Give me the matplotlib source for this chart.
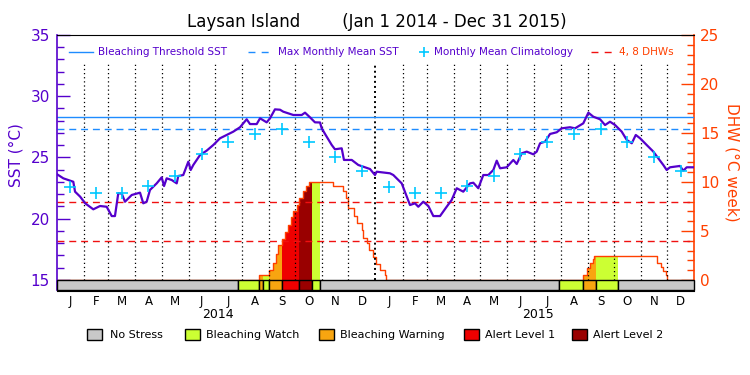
import numpy as np
import pandas as pd
import matplotlib
matplotlib.use('Agg')
import matplotlib.pyplot as plt
from matplotlib.patches import Rectangle
from matplotlib.lines import Line2D
from matplotlib.ticker import FixedLocator

plt.rcParams['font.family'] = ['DejaVu Sans']

# ---- data (days since 2014-01-01) ----
month_letters = list('JFMAMJJASOND')
year_labels = ['2014', '2015']

clim_sst = [22.62, 22.07, 22.10, 22.65, 23.46, 25.30, 26.24, 26.89, 27.30, 26.24, 25.07, 23.90]
threshold_sst = 28.28
mmm_sst = 27.30
dhw_levels = [4, 8]

sst_day = [0, 7.6, 19.0, 21.0, 26.9, 32.6, 41.9, 49.6, 57.2, 63.0, 66.7, 70.5, 74.4, 78.2, 85.9,
           95.4, 99.1, 103.0, 106.8, 114.5, 120.2, 122.9, 125.9, 131.7, 137.4, 139.2, 144.9,
           150.7, 153.4, 156.4, 164.1, 171.7, 179.3, 187.0, 194.6, 202.2, 209.9, 217.5, 221.3,
           229.0, 232.8, 240.4, 244.2, 249.9, 255.7, 259.4, 270.9, 280.5, 284.3, 290.0, 295.7,
           301.5, 303.4, 309.1, 314.9, 318.6, 326.3, 328.9, 337.8, 345.3, 353.0, 358.7, 364.4,
           366.4, 381.6, 385.4, 395.0, 404.5, 410.2, 414.0, 419.7, 425.5, 431.2, 438.9, 446.5,
           452.2, 458.0, 465.5, 473.2, 477.0, 482.7, 488.4, 494.2, 499.9, 503.8, 507.6, 515.2,
           522.8, 526.7, 532.4, 538.1, 545.7, 549.6, 553.4, 559.1, 564.8, 572.5, 578.2, 587.7,
           593.4, 602.9, 608.7, 614.4, 622.1, 627.8, 633.5, 639.3, 646.9, 652.7, 658.4, 663.0,
           667.9, 675.5, 683.1, 688.8, 694.5, 698.4, 702.2, 713.6, 717.4, 721.3, 730]
sst_val = [23.65, 23.30, 23.02, 22.21, 21.80, 21.26, 20.77, 21.04, 20.98, 20.22, 20.22, 22.08,
           22.06, 21.39, 21.94, 22.13, 21.26, 21.39, 22.35, 22.89, 23.38, 22.67, 23.30, 23.16,
           22.89, 23.49, 23.57, 24.66, 23.98, 24.39, 25.20, 25.56, 26.02, 26.57, 26.84, 27.11,
           27.47, 28.12, 27.73, 27.73, 28.20, 27.87, 28.20, 28.93, 28.90, 28.74, 28.47, 28.47,
           28.66, 28.28, 27.87, 27.86, 27.38, 26.70, 26.02, 25.67, 25.75, 24.80, 24.80, 24.39,
           24.20, 24.06, 23.57, 23.84, 23.71, 23.57, 22.89, 21.12, 21.26, 20.98, 21.39, 21.04,
           20.22, 20.22, 20.98, 21.53, 22.49, 22.21, 22.89, 22.94, 22.49, 23.57, 23.57, 23.98,
           24.74, 24.12, 24.20, 24.80, 24.47, 25.34, 25.48, 25.26, 25.48, 26.16, 26.29, 26.92,
           27.06, 27.38, 27.47, 27.38, 27.79, 28.66, 28.33, 28.12, 27.65, 27.92, 27.65, 27.11,
           26.43, 26.16, 26.84, 26.57, 26.02, 25.48, 24.93, 24.39, 23.98, 24.20, 24.31, 23.92,
           24.20, 24.20]

dhw_day = [0, 232.0, 243.4, 247.3, 251.1, 253.7, 257.6, 261.4, 264.5, 267.9, 270.9, 274.8,
           277.8, 281.7, 285.4, 288.5, 316.7, 327.5, 331.2, 333.9, 340.7, 343.5, 349.2, 351.0,
           354.9, 357.9, 362.5, 366.1, 370.2, 375.9, 376.7, 602.9, 607.5, 610.6, 613.7, 615.2,
           687.6, 691.5, 694.5, 697.6, 698.4, 730]
dhw_val = [0, 0.51, 1.02, 1.70, 2.62, 3.57, 4.21, 4.93, 5.61, 6.40, 7.04, 7.62, 8.34, 9.08,
           9.59, 10.03, 9.59, 9.08, 8.34, 7.38, 6.53, 5.85, 5.10, 4.32, 3.74, 3.06, 2.38, 1.63,
           1.02, 0.51, 0, 0.51, 1.26, 1.77, 2.11, 2.45, 1.77, 1.36, 0.95, 0.51, 0, 0]

# stress level: 0 no stress, 1 watch, 2 warning, 3 alert 1, 4 alert 2
status_day = [0, 207.9, 232.0, 236.5, 243.4, 257.6, 277.8, 292.3, 301.5, 575.4, 602.9, 617.5, 643.0]
status_lvl = [0, 1, 2, 1, 2, 3, 4, 1, 0, 1, 2, 1, 0]
status_names = ['No Stress', 'Bleaching Watch', 'Bleaching Warning', 'Alert Level 1', 'Alert Level 2']

# ---- styles ----
PURPLE = '#5500cc'
ORANGE_RED = '#ff4000'
BLUE = '#1e8cff'
CYAN = '#00c8ff'
RED = '#f01010'
status_colors = ['#c8c8c8', '#ccff33', '#f8a510', '#ee0000', '#990000']

W, H = 750, 375
def fx(x):
    return x / W
def fy(y):
    return 1 - y / H

months = pd.date_range('2014-01-01', '2016-01-01', freq='MS')
month_start = np.array([(d - months[0]).days for d in months], dtype=float)
month_mid = (month_start[:-1] + month_start[1:]) / 2

fig = plt.figure(figsize=(7.5, 3.75), dpi=100)
ax = fig.add_axes([fx(56.7), fy(290.5), fx(694.3) - fx(56.7), fy(35) - fy(290.5)])
ax2 = ax.twinx()
ax.set_zorder(2)
ax2.set_zorder(1)
ax.patch.set_visible(False)

sst_bottom = 15 - 10.5 / 12.25
ax.set_xlim(0, 730)
ax.set_ylim(sst_bottom, 35)
ax2.set_ylim(-10.5 / 9.8, 25)

# DHW fills coloured by status
dday = np.array(dhw_day)
dval = np.array(dhw_val)
def dhw_at(d):
    return dval[np.searchsorted(dday, d, side='right') - 1]

bounds = status_day + [730]
for i, lvl in enumerate(status_lvl):
    a, b = bounds[i], bounds[i + 1]
    if lvl == 0:
        continue
    pts = [a] + [d for d in dhw_day if a < d < b] + [b]
    vals = [dhw_at(p) for p in pts]
    ax2.fill_between(pts, 0, vals, step='post', color=status_colors[lvl], lw=0, zorder=1)

for lev in dhw_levels:
    ax2.axhline(lev, color=RED, lw=1.0, ls=(0, (5, 3.5)), zorder=3)
ax2.step(dhw_day, dhw_val, where='post', color=ORANGE_RED, lw=1.0, zorder=4)

# month separators
for d in month_start[1:-1]:
    if d == 365:
        ax.vlines(d, 15, 32.7, color='black', lw=1.4, ls=(0, (1, 1.6)), zorder=1)
    else:
        ax.vlines(d, 15, 32.7, color='black', lw=0.9, ls=(0, (1, 2.3)), zorder=1)

ax.axhline(threshold_sst, color=BLUE, lw=1.0, zorder=2)
ax.axhline(mmm_sst, color=BLUE, lw=1.0, ls=(0, (5, 3.5)), zorder=2)
ax.plot(sst_day, sst_val, color=PURPLE, lw=1.6, zorder=4)
ax.plot(month_mid, clim_sst * 2, ls='none', marker='+', ms=9, mew=1.2, color=CYAN, zorder=5)

# status bar
for i, lvl in enumerate(status_lvl):
    a, b = bounds[i], bounds[i + 1]
    ax.bar(a, 15 - sst_bottom, width=b - a, bottom=sst_bottom, align='edge',
           color=status_colors[lvl], edgecolor='black', lw=1.0, zorder=6, clip_on=False)

# spines and ticks
for s in ['top', 'bottom']:
    ax.spines[s].set_color('black')
ax.spines['left'].set_color(PURPLE)
ax.spines['right'].set_visible(False)
for s in ['left', 'top', 'bottom']:
    ax2.spines[s].set_visible(False)
ax2.spines['right'].set_color(ORANGE_RED)
ax.spines['left'].set_linewidth(1.2)
ax2.spines['right'].set_linewidth(1.2)

ax.yaxis.set_major_locator(FixedLocator([15, 20, 25, 30, 35]))
ax.yaxis.set_minor_locator(FixedLocator(list(range(15, 36))))
ax.tick_params(axis='y', which='both', direction='in', colors=PURPLE, labelsize=11, pad=5)
ax.tick_params(axis='y', which='major', length=9.5, width=1)
ax.tick_params(axis='y', which='minor', length=4.8, width=1)

ax2.yaxis.set_major_locator(FixedLocator([0, 5, 10, 15, 20, 25]))
ax2.yaxis.set_minor_locator(FixedLocator(list(range(0, 26))))
ax2.tick_params(axis='y', which='both', direction='in', colors=ORANGE_RED, labelsize=11, pad=4)
ax2.tick_params(axis='y', which='major', length=9.5, width=1)
ax2.tick_params(axis='y', which='minor', length=4.8, width=1)

ax.set_xticks(month_mid, labels=month_letters * 2)
ax.tick_params(axis='x', length=0, pad=3, labelsize=8.5)

ax.set_ylabel('SST (°C)', color=PURPLE, fontsize=11)
ax.yaxis.set_label_coords(-33.0 / (694.3 - 56.7), 0.53)
ax2.set_ylabel('DHW (°C week)', color=ORANGE_RED, fontsize=11, rotation=270, va='center')
ax2.yaxis.set_label_coords((731.7 - 56.7) / (694.3 - 56.7), 0.5)

fig.text(fx(377), fy(22), 'Laysan Island        (Jan 1 2014 - Dec 31 2015)',
         ha='center', va='center', fontsize=12)

for yl, xc in zip(year_labels, [218, 538]):
    fig.text(fx(xc), fy(314), yl, ha='center', va='center', fontsize=9)

# top legend
ly = fy(51.7)
fig.add_artist(Line2D([fx(69.3), fx(92.7)], [ly, ly], color=BLUE, lw=1.0))
fig.text(fx(98.3), ly, 'Bleaching Threshold SST', color=PURPLE, fontsize=7.5, va='center')
fig.add_artist(Line2D([fx(247.6), fx(271.6)], [ly, ly], color=BLUE, lw=1.0, ls=(0, (5, 4.5))))
fig.text(fx(277.9), ly, 'Max Monthly Mean SST', color=PURPLE, fontsize=7.5, va='center')
fig.add_artist(Line2D([fx(424)], [ly], color=CYAN, marker='+', ms=7, mew=1.2))
fig.text(fx(434), ly, 'Monthly Mean Climatology', color=PURPLE, fontsize=7.5, va='center')
fig.add_artist(Line2D([fx(591), fx(613)], [ly, ly], color=RED, lw=1.0, ls=(0, (5, 4.5))))
fig.text(fx(619), ly, '4, 8 DHWs', color=ORANGE_RED, fontsize=7.5, va='center')

# bottom legend
box_x = [87.3, 184.5, 318.5, 464, 572]
txt_x = [109.6, 205.8, 340.4, 484.6, 592.8]
for lvl, name in enumerate(status_names):
    fig.add_artist(Rectangle((fx(box_x[lvl]), fy(340)), 15 / W, 11 / H,
                             facecolor=status_colors[lvl], edgecolor='black', lw=1.0,
                             transform=fig.transFigure))
    fig.text(fx(txt_x[lvl]), fy(334.5), name, fontsize=8, va='center')

fig.savefig('out.png', dpi=100, facecolor='white')
